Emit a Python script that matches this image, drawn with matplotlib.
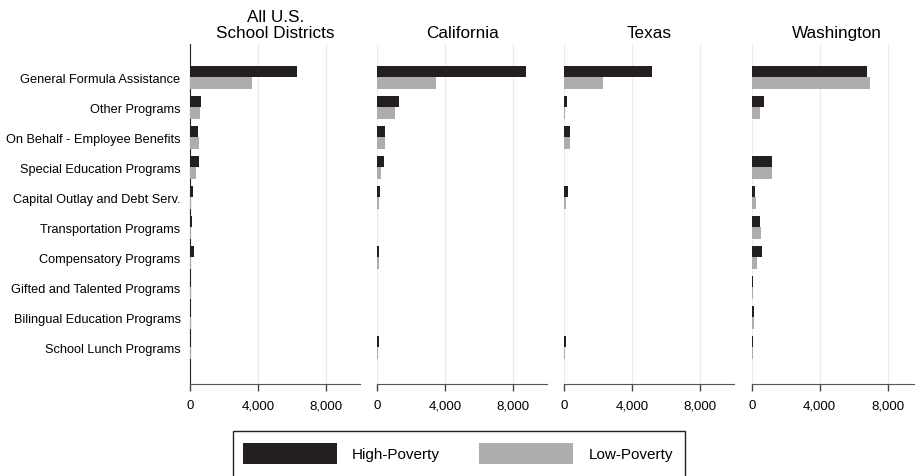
import matplotlib.pyplot as plt
import numpy as np
from matplotlib.patches import Patch, Rectangle

plt.rcParams['font.family'] = ['Liberation Sans', 'DejaVu Sans']

categories = [
    "General Formula Assistance",
    "Other Programs",
    "On Behalf - Employee Benefits",
    "Special Education Programs",
    "Capital Outlay and Debt Serv.",
    "Transportation Programs",
    "Compensatory Programs",
    "Gifted and Talented Programs",
    "Bilingual Education Programs",
    "School Lunch Programs",
]
panel_titles = ["All U.S.\nSchool Districts", "California", "Texas", "Washington"]

us_high = [6250, 630, 440, 490, 160, 120, 240, 50, 50, 60]
us_low = [3600, 590, 510, 330, 60, 60, 40, 30, 30, 40]
ca_high = [8720, 1290, 450, 410, 160, 0, 100, 0, 0, 100]
ca_low = [3480, 1060, 450, 240, 100, 0, 80, 0, 0, 70]
tx_high = [5180, 160, 330, 0, 220, 0, 0, 0, 0, 80]
tx_low = [2290, 60, 350, 0, 100, 0, 0, 0, 0, 70]
wa_high = [6800, 740, 0, 1200, 220, 470, 630, 80, 150, 80]
wa_low = [6960, 510, 0, 1200, 270, 550, 310, 60, 120, 60]

high_series = [us_high, ca_high, tx_high, wa_high]
low_series = [us_low, ca_low, tx_low, wa_low]

x_ticks = [0, 4000, 8000]
x_tick_labels = ["0", "4,000", "8,000"]

high_color = "#231f20"
low_color = "#adadad"

W, H = 915, 477
fig = plt.figure(figsize=(W / 100, H / 100), dpi=100)

lefts = [190.3, 377.3, 564.3, 751.7]
ax_w = 170
ax_top, ax_bot = 45, 385

y = np.arange(len(categories))
bh = 0.377

for i, left in enumerate(lefts):
    ax = fig.add_axes([left / W, 1 - ax_bot / H, ax_w / W, (ax_bot - ax_top) / H])
    ax.barh(y - bh / 2, high_series[i], height=bh, color=high_color, zorder=3)
    ax.barh(y + bh / 2, low_series[i], height=bh, color=low_color, zorder=3)
    ax.set_xlim(0, 10000)
    ax.set_ylim(len(categories) - 1 + 1.22, -1.11)
    ax.set_xticks(x_ticks)
    ax.set_xticklabels(x_tick_labels, fontsize=9.5)
    ax.grid(axis="x", color="#ececec", linewidth=1, zorder=0)
    ax.tick_params(axis="x", length=5, width=1, color="#444444", pad=6)
    for s in ["top", "right"]:
        ax.spines[s].set_visible(False)
    ax.spines["bottom"].set_color("#555555")
    if i == 0:
        ax.spines["left"].set_color("#222222")
        ax.set_yticks(y)
        ax.set_yticklabels(categories, fontsize=9.2)
        ax.tick_params(axis="y", length=0, pad=7)
    else:
        ax.spines["left"].set_visible(False)
        ax.set_yticks([])
    ax.set_title(panel_titles[i], fontsize=12.3, linespacing=1.05, pad=5)

# legend box runs off the bottom edge of the figure, as in the original
frame = Rectangle((233 / W, 1 - 480 / H), 452 / W, 48 / H, transform=fig.transFigure,
                  facecolor="white", edgecolor="#222222", linewidth=1, zorder=0)
fig.patches.append(frame)

handles = [Patch(facecolor=high_color), Patch(facecolor=low_color)]
leg = fig.legend(handles, ["High-Poverty", "Low-Poverty"], loc="upper left",
                 bbox_to_anchor=(233 / W, 1 - 434 / H), ncol=2, fontsize=11,
                 frameon=False,
                 handlelength=6.15, handleheight=1.75, handletextpad=1.0,
                 columnspacing=2.55, borderpad=0.65, borderaxespad=0)

fig.savefig("out.png", dpi=100)
